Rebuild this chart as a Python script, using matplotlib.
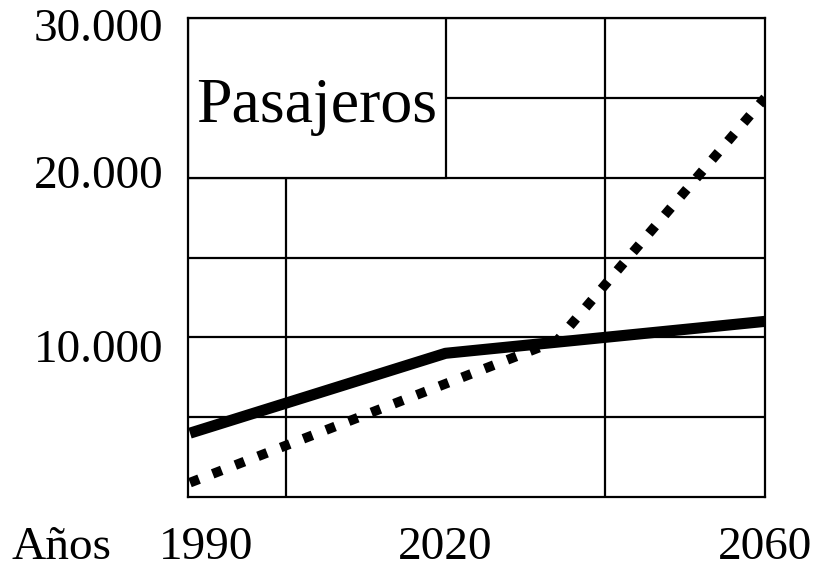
import matplotlib.pyplot as plt
import matplotlib.transforms as mtransforms
from matplotlib.patches import Rectangle

plt.rcParams['font.family'] = ['Liberation Serif', 'DejaVu Serif']

# datos
years_solid = [1988, 2020, 2060]
pasajeros_solid = [4000, 9000, 11000]
years_dotted = [1988, 2034, 2060]
pasajeros_dotted = [900, 9800, 25000]

xtick_years = [1990, 2020, 2060]
xtick_labels = ['1990', '2020', '2060']
ytick_vals = [10000, 20000, 30000]
ytick_labels = ['10.000', '20.000', '30.000']

fig = plt.figure(figsize=(8.27, 5.68), dpi=100)
ax = fig.add_axes([188/827, 1 - 497/568, (765 - 188)/827, (497 - 18)/568])

ax.set_xlim(1987.75, 2060)
ax.set_ylim(0, 30000)

ax.set_xticks(xtick_years)
ax.set_xticklabels(xtick_labels, fontsize=34)
ax.set_xticks([2000, 2020, 2040], minor=True)
ax.set_yticks(ytick_vals)
ax.set_yticklabels(ytick_labels, fontsize=34)
ax.set_yticks([5000, 15000, 25000], minor=True)
ax.tick_params(which='both', length=0)
ax.tick_params(axis='x', pad=21)
ax.tick_params(axis='y', pad=18)
# los rotulos del eje y no estan centrados exactamente en la linea
for lab, dy in zip(ax.get_yticklabels(), [-8, 6, -7]):
    lab.set_transform(lab.get_transform() + mtransforms.ScaledTranslation(0, dy/100, fig.dpi_scale_trans))

ax.grid(True, which='minor', color='black', lw=1.6)
ax.grid(True, which='major', axis='y', color='black', lw=1.6)
for s in ax.spines.values():
    s.set_linewidth(1.6)

ax.plot(years_solid, pasajeros_solid, color='black', lw=8, solid_capstyle='butt', zorder=3)
ax.plot(years_dotted, pasajeros_dotted, color='black', lw=7, linestyle=(0, (1, 1.5)), zorder=3)

# recuadro del titulo
ax.add_patch(Rectangle((1987.75, 20000), 2020 - 1987.75, 10000, facecolor='white',
                       edgecolor='black', lw=1.6, zorder=2.5))
ax.text((1987.75 + 2020) / 2, 24400, 'Pasajeros', fontsize=46, ha='center', va='center', zorder=4)

fig.text(61/827, 1 - 548/568, 'Años', fontsize=34, ha='center', va='center')

fig.savefig('out.png', dpi=100)
